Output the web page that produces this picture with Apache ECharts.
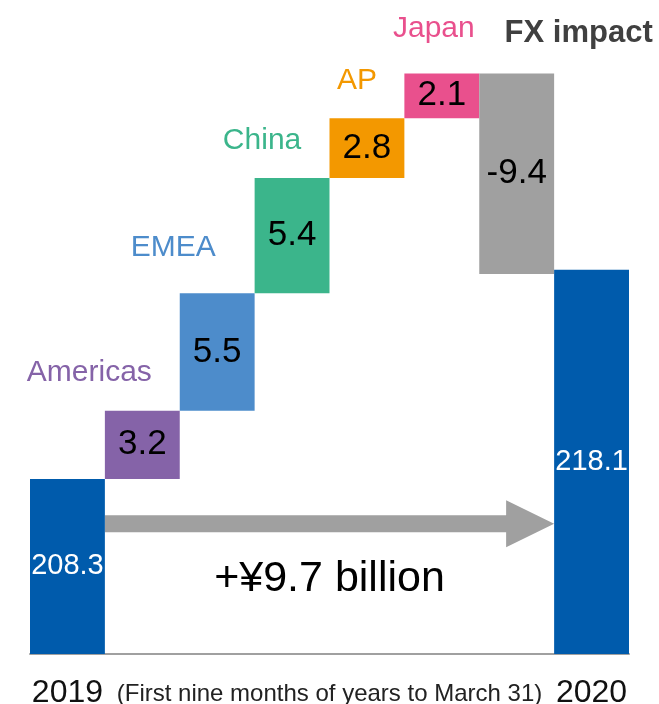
<!DOCTYPE html>
<html>
<head>
<meta charset="utf-8">
<script src="https://cdn.jsdelivr.net/npm/echarts@6/dist/echarts.min.js"></script>
<style>
  html, body { margin: 0; padding: 0; background: #fff; }
  #chart { width: 659px; height: 704px; }
</style>
</head>
<body>
<div id="chart"></div>
<script>
// Net sales bridge, 2019 -> 2020 (¥ billion)
const categories = ['2019', 'Americas', 'EMEA', 'China', 'AP', 'Japan', 'FX impact', '2020'];
const startTotal = 208.3;
const endTotal = 218.1;
const stepNames = ['Americas', 'EMEA', 'China', 'AP', 'Japan', 'FX impact'];
const stepValues = [3.2, 5.5, 5.4, 2.8, 2.1, -9.4];
const periodNote = '(First nine months of years to March 31)';
const changeNote = '+¥9.7 billion';

const FONT = '"Liberation Sans", Arial, Helvetica, sans-serif';
const totalColor = '#005BAC';
const stepColors = ['#8563A8', '#4D8CCB', '#3BB58B', '#F39800', '#E9508D', '#A0A0A0'];
const stepNameColors = ['#8563A8', '#4D8CCB', '#3BB58B', '#F39800', '#E9508D', '#404040'];
// where each region name sits relative to the top centre of its block
const nameOffsets = [[-53, -38], [-44, -46], [-30, -37], [-10, -38], [-8, -45], [62, -40]];

// running totals -> invisible base + visible block for each step
const baseData = ['-'];
const stepData = ['-'];
const nameData = [];
let running = startTotal;
stepValues.forEach(function (v, i) {
  let base;
  if (v >= 0) { base = running; running += v; }
  else { running += v; base = running; }
  const idx = i + 1;
  baseData.push(+base.toFixed(2));
  stepData.push({ value: Math.abs(v), itemStyle: { color: stepColors[i] } });
  const last = i === stepNames.length - 1;
  nameData.push({
    value: [idx, +(base + Math.abs(v)).toFixed(2)],
    name: stepNames[i],
    label: {
      offset: nameOffsets[i],
      color: stepNameColors[i],
      fontWeight: last ? 'bold' : 'normal',
      fontSize: last ? 31 : 30
    }
  });
});
baseData.push('-');
stepData.push('-');

const totalData = categories.map(function (c, i) {
  if (i === 0) return startTotal;
  if (i === categories.length - 1) return endTotal;
  return '-';
});

const arrowLevel = 206.2;

const chart = echarts.init(document.getElementById('chart'), null, { renderer: 'canvas' });
chart.setOption({
  animation: false,
  backgroundColor: '#fff',
  grid: { left: 30, right: 30, top: 35, bottom: 50, containLabel: false, outerBoundsMode: 'none' },
  xAxis: {
    type: 'category',
    data: categories,
    axisLine: { show: true, lineStyle: { color: '#A0A0A0', width: 2 } },
    axisTick: { show: false },
    axisLabel: {
      interval: 0,
      margin: 23,
      fontFamily: FONT,
      fontSize: 32,
      color: '#111',
      formatter: function (v, i) { return (i === 0 || i === categories.length - 1) ? v : ''; }
    },
    name: periodNote,
    nameLocation: 'middle',
    nameGap: 28,
    nameMoveOverlap: false,
    nameTextStyle: { fontFamily: FONT, fontSize: 24, color: '#222' }
  },
  yAxis: {
    type: 'value',
    min: 200.1,
    max: 229.1,
    show: false,
    splitLine: { show: false }
  },
  series: [
    {
      type: 'bar',
      stack: 'bridge',
      data: baseData,
      barCategoryGap: '0%',
      barGap: '-100%',
      itemStyle: { color: 'transparent' },
      silent: true
    },
    {
      type: 'bar',
      stack: 'bridge',
      data: stepData,
      barCategoryGap: '0%',
      barGap: '-100%',
      label: {
        show: true,
        position: 'inside',
        fontFamily: FONT,
        fontSize: 35,
        color: '#000',
        formatter: function (p) { return String(stepValues[p.dataIndex - 1]); }
      }
    },
    {
      type: 'bar',
      data: totalData,
      barCategoryGap: '0%',
      barGap: '-100%',
      itemStyle: { color: totalColor },
      label: {
        show: true,
        position: 'inside',
        fontFamily: FONT,
        fontSize: 29,
        color: '#fff',
        formatter: function (p) { return p.value.toFixed(1); }
      }
    },
    {
      type: 'scatter',
      data: nameData,
      symbolSize: 0,
      silent: true,
      itemStyle: { opacity: 1 },
      label: {
        show: true,
        position: 'inside',
        opacity: 1,
        fontFamily: FONT,
        fontSize: 30,
        formatter: function (p) { return p.name; }
      }
    },
    {
      // change arrow from the 2019 block to the 2020 block
      type: 'custom',
      silent: true,
      data: [[0, categories.length - 1, arrowLevel]],
      renderItem: function (params, api) {
        const band = api.size([1, 0])[0];
        const a = api.coord([api.value(0), api.value(2)]);
        const b = api.coord([api.value(1), api.value(2)]);
        const x0 = a[0] + band / 2;
        const x1 = b[0] - band / 2;
        const y = a[1];
        const shaft = 8.5, headLen = 48, headHalf = 23.5;
        return {
          type: 'group',
          children: [
            {
              type: 'polygon',
              shape: {
                points: [
                  [x0, y - shaft], [x1 - headLen, y - shaft], [x1 - headLen, y - headHalf],
                  [x1, y], [x1 - headLen, y + headHalf], [x1 - headLen, y + shaft], [x0, y + shaft]
                ]
              },
              style: { fill: '#A0A0A0' }
            },
            {
              type: 'text',
              x: (x0 + x1) / 2,
              y: y + 55,
              style: {
                text: changeNote,
                fontFamily: FONT,
                fontSize: 43,
                fill: '#000',
                align: 'center',
                verticalAlign: 'middle'
              }
            }
          ]
        };
      }
    }
  ]
});
</script>
</body>
</html>
